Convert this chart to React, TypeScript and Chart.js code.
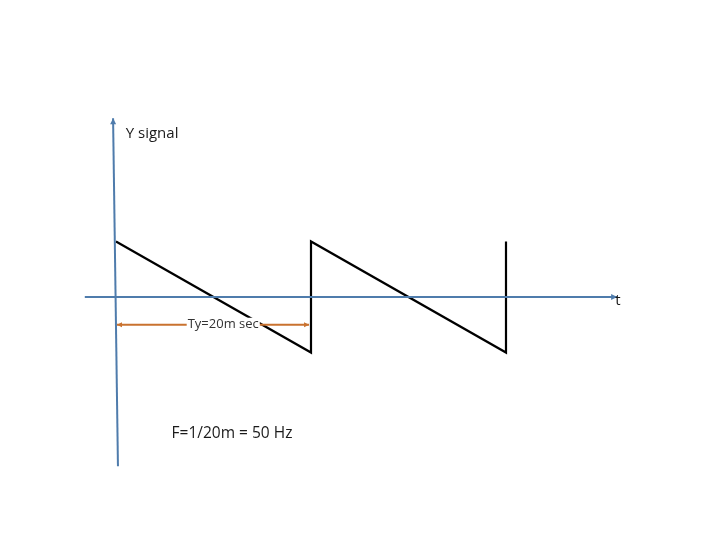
import React, { useEffect, useRef } from "react";
import { Chart, registerables } from "chart.js";

Chart.register(...registerables);

// Sawtooth signal: time (ms) and amplitude
const sawTime = [0, 20, 20, 40, 40];
const sawValue = [1, -1, 1, -1, 1];

// Axis lines (time ms, amplitude)
const tAxisTime = [-3.2, 51.4];
const tAxisValue = [0, 0];
const yAxisTime = [-0.3, 0.2];
const yAxisValue = [3.22, -3.05];

// Period marker
const periodTime = [0.1, 19.8];
const periodValue = [-0.5, -0.5];

const yAxisTitle = "Y signal";
const tAxisTitle = "t";
const periodLabel = "Ty=20m sec";
const freqLabel = "F=1/20m = 50 Hz";

const BLUE = "#4F7CAC";
const ORANGE = "#C9722F";

function pts(xs: number[], ys: number[]) {
  return xs.map((x, i) => ({ x, y: ys[i] }));
}

const annotate = {
  id: "annotate",
  afterDatasetsDraw(chart: any) {
    const ctx = chart.ctx;
    const xs = chart.scales.x;
    const ys = chart.scales.y;
    const px = (v: number) => xs.getPixelForValue(v);
    const py = (v: number) => ys.getPixelForValue(v);

    const arrow = (x0: number, y0: number, x1: number, y1: number, color: string, size: number) => {
      const a = Math.atan2(y1 - y0, x1 - x0);
      ctx.save();
      ctx.fillStyle = color;
      ctx.beginPath();
      ctx.moveTo(x1, y1);
      ctx.lineTo(x1 - size * Math.cos(a) + (size * 0.5) * Math.sin(a), y1 - size * Math.sin(a) - (size * 0.5) * Math.cos(a));
      ctx.lineTo(x1 - size * Math.cos(a) - (size * 0.5) * Math.sin(a), y1 - size * Math.sin(a) + (size * 0.5) * Math.cos(a));
      ctx.closePath();
      ctx.fill();
      ctx.restore();
    };

    // arrowheads on axes
    arrow(px(tAxisTime[0]), py(tAxisValue[0]), px(tAxisTime[1]), py(tAxisValue[1]), BLUE, 6);
    arrow(px(yAxisTime[1]), py(yAxisValue[1]), px(yAxisTime[0]), py(yAxisValue[0]), BLUE, 6);
    // arrowheads on period marker
    arrow(px(periodTime[1]), py(periodValue[1]), px(periodTime[0]), py(periodValue[0]), ORANGE, 5);
    arrow(px(periodTime[0]), py(periodValue[0]), px(periodTime[1]), py(periodValue[1]), ORANGE, 5);

    ctx.save();
    ctx.textBaseline = "middle";
    ctx.fillStyle = "#1a1a1a";
    ctx.font = "15px 'Open Sans', 'Liberation Sans', sans-serif";
    ctx.textAlign = "left";
    ctx.fillText(yAxisTitle, px(1.0), py(2.95));
    ctx.fillText(tAxisTitle, px(51.2), py(-0.07));
    ctx.font = "15.5px 'Open Sans', 'Liberation Sans', sans-serif";
    ctx.fillText(freqLabel, px(5.7), py(-2.46));

    // period label with white box hiding the line
    ctx.font = "13px 'Open Sans', 'Liberation Sans', sans-serif";
    const w = ctx.measureText(periodLabel).width;
    const cx = px(11.0);
    const cy = py(-0.5);
    ctx.fillStyle = "#ffffff";
    ctx.fillRect(cx - w / 2 - 1, cy - 7, w + 2, 14);
    ctx.fillStyle = "#333333";
    ctx.textAlign = "center";
    ctx.fillText(periodLabel, cx, cy);
    ctx.restore();
  },
};

export default function App() {
  const ref = useRef<HTMLCanvasElement>(null);
  useEffect(() => {
    if (!ref.current) return;
    const chart = new Chart(ref.current, {
      type: "scatter",
      data: {
        datasets: [
          {
            label: "t axis",
            data: pts(tAxisTime, tAxisValue),
            showLine: true,
            borderColor: BLUE,
            borderWidth: 2,
            pointRadius: 0,
          },
          {
            label: "y axis",
            data: pts(yAxisTime, yAxisValue),
            showLine: true,
            borderColor: BLUE,
            borderWidth: 2,
            pointRadius: 0,
          },
          {
            label: "period",
            data: pts(periodTime, periodValue),
            showLine: true,
            borderColor: ORANGE,
            borderWidth: 2,
            pointRadius: 0,
          },
          {
            label: "signal",
            data: pts(sawTime, sawValue),
            showLine: true,
            borderColor: "#000000",
            borderWidth: 2.2,
            pointRadius: 0,
          },
        ],
      },
      options: {
        responsive: false,
        animation: false,
        layout: { padding: 0 },
        plugins: { legend: { display: false }, tooltip: { enabled: false } },
        scales: {
          x: { type: "linear", min: -11.897, max: 61.949, display: false },
          y: { type: "linear", min: -4.378, max: 5.351, display: false },
        },
      },
      plugins: [annotate],
    });
    return () => chart.destroy();
  }, []);
  return (
    <div style={{ position: "fixed", left: 0, top: 0, width: 720, height: 540, background: "#fff" }}>
      <canvas ref={ref} width={720} height={540} />
    </div>
  );
}
